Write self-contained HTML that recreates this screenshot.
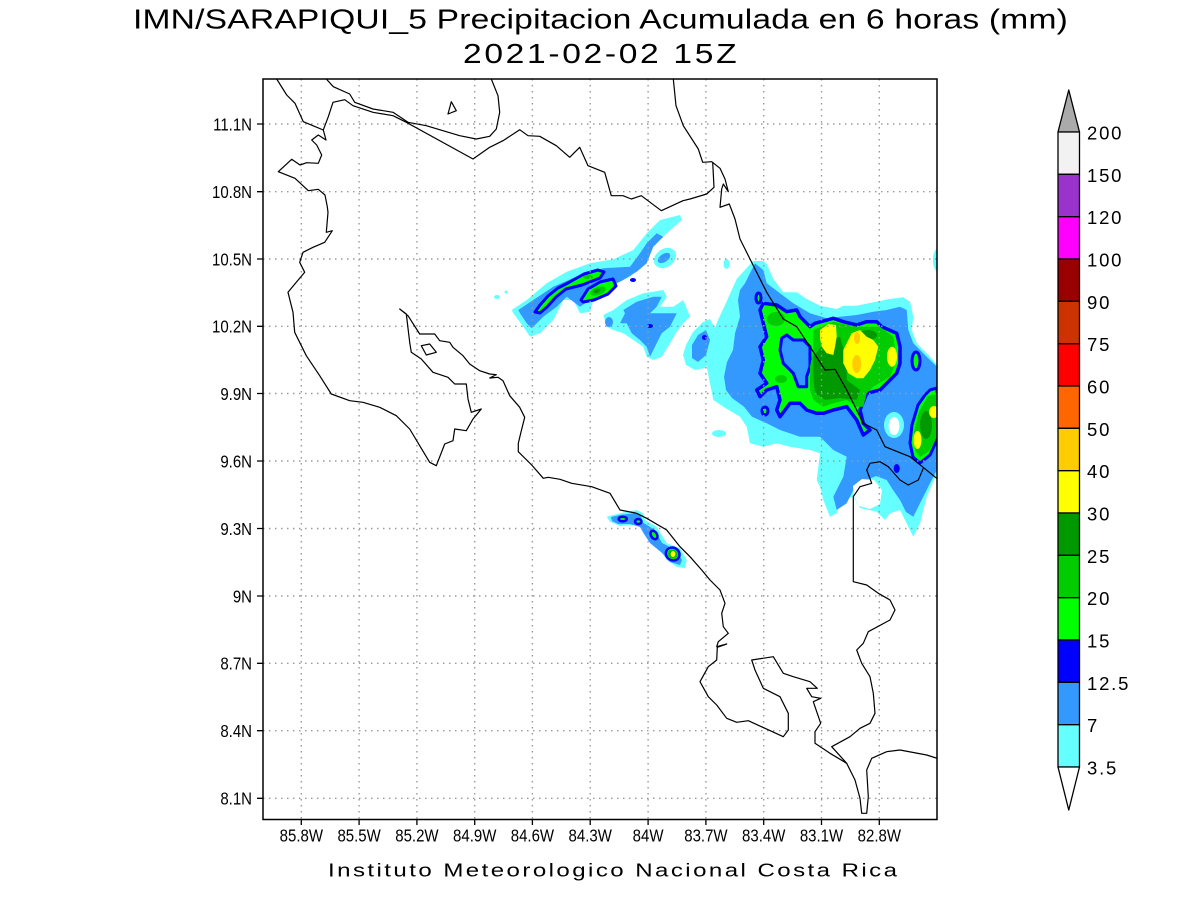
<!DOCTYPE html>
<html>
<head>
<meta charset="utf-8">
<style>
html,body{margin:0;padding:0;background:#fff;}
svg{display:block;}
text{font-family:"Liberation Sans",sans-serif;fill:#000;}
</style>
</head>
<body>
<svg width="1200" height="900" viewBox="0 0 1200 900" xmlns="http://www.w3.org/2000/svg">
<defs>
<clipPath id="fr"><rect x="263" y="79" width="674" height="740"/></clipPath>
</defs>
<rect x="0" y="0" width="1200" height="900" fill="#fff"/>

<!-- Titles -->
<text transform="translate(133,28.5) scale(1.2,1)" font-size="28" textLength="779" lengthAdjust="spacing">IMN/SARAPIQUI_5 Precipitacion Acumulada en 6 horas (mm)</text>
<text transform="translate(463,63) scale(1.2,1)" font-size="28" textLength="228" lengthAdjust="spacing">2021-02-02 15Z</text>

<g clip-path="url(#fr)" stroke-linejoin="round">
<!-- ===== NW band ===== -->
<polygon fill="#66ffff" points="511.7,310 526.7,300 546.7,283.3 566.7,271.7 590,263.3 613.3,259.3 633.3,250 646.7,233.3 660,220 680,215 681.7,220 666.7,233.3 653.3,246.7 646.7,258.3 636.7,270 630,276.7 606.7,286.7 593.3,300 590,311.7 580,313.3 573.3,300 563.3,300 553.3,320 540,333.3 530,336.7 523.3,326.7 513.3,313.3"/>
<ellipse cx="665" cy="258" rx="12" ry="9" fill="#66ffff" transform="rotate(-35 665 258)"/>
<ellipse cx="664" cy="258" rx="7" ry="4" fill="#3399ff" transform="rotate(-35 664 258)"/>
<ellipse cx="497" cy="297" rx="3" ry="2" fill="#66ffff"/>
<ellipse cx="506" cy="292" rx="1.5" ry="1.5" fill="#66ffff"/>
<polygon fill="#66ffff" points="603.3,315 613.3,310 626.7,300 643.3,293.3 663.3,290 666.7,296.7 660,306.7 673.3,306.7 683.3,300 690,316.7 683.3,323.3 676.7,331.7 670,343.3 661.7,356.7 653.3,360 646.7,356.7 643.3,346.7 633.3,340 623.3,333.3 613.3,330 606.7,326.7"/>
<polygon fill="#3399ff" points="518.3,310 533.3,300 553.3,286.7 580,275 603.3,268.3 630,266.7 640,253.3 646.7,243.3 656.7,233.3 663.3,236.7 653.3,246.7 646.7,263.3 636.7,271.7 623.3,280 613.3,285 603.3,291.7 590,300 580,306.7 566.7,296.7 556.7,306.7 543.3,316.7 531.7,328.3 526.7,323.3 520,313.3"/>
<polygon fill="#3399ff" points="623.3,310 636.7,301.7 653.3,296.7 661.7,296.7 656.7,306.7 650,313.3 666.7,313.3 676.7,313.3 670,326.7 661.7,333.3 656.7,343.3 650,356.7 646.7,346.7 640,340 631.7,333.3 626.7,323.3 620,323.3 625,313.3"/>
<ellipse cx="609" cy="322" rx="4" ry="5" fill="#3399ff"/>
<ellipse cx="650" cy="326" rx="3" ry="2" fill="#0000ff"/>
<ellipse cx="633" cy="280" rx="3" ry="2" fill="#0000ff"/>
<polygon fill="#00ff00" stroke="#0000ff" stroke-width="3" points="535,312 540,305 548,296 558,288 568,283 584,274 598,270 604,272 600,278 582,285 566,289 556,297 547,307 540,313"/>
<ellipse cx="588" cy="277" rx="5" ry="2" fill="#00cc00"/>
<polygon fill="#00ff00" stroke="#0000ff" stroke-width="3" points="581,300 588,289 600,282 613,279 616,286 608,294 594,300 583,302"/>
<ellipse cx="598" cy="291" rx="8" ry="4" fill="#00cc00" transform="rotate(-20 598 291)"/>
<ellipse cx="597" cy="291" rx="3.5" ry="2" fill="#009900" transform="rotate(-20 597 291)"/>

<!-- small west blobs near coast -->
<polygon fill="#66ffff" points="686,345 693,332 703,322 710,319 716,330 716,345 710,360 705,368 695,370 686,365 683,355"/>
<polygon fill="#3399ff" points="692,345 698,335 706,330 710,340 706,355 698,362 692,358"/>
<ellipse cx="704.5" cy="337.5" rx="2.5" ry="2.5" fill="#0000ff"/>
<ellipse cx="726.5" cy="264" rx="3" ry="5" fill="#66ffff"/>
<ellipse cx="719" cy="433.5" rx="7" ry="3.5" fill="#66ffff"/>
<ellipse cx="937" cy="260" rx="4" ry="11" fill="#66ffff"/>

<!-- ===== Big eastern storm ===== -->
<polygon fill="#66ffff" points="753,261 763,261 766.7,264 773.3,279 783.3,292.3 796.7,292.3 806.7,299 820,305.7 836.7,309 843.3,305.7 856.7,305.7 873.3,302.3 890,299 903.3,297.3 910,301.7 913.3,316.7 911.7,330 916.7,343.3 930,356.7 937,365 937,473.3 926.7,496.7 923.3,510 920,523.3 913.3,536.7 900,510 890,513.3 885,520 876.7,511.7 860,508 853.3,496.7 840,500 836.7,513.3 830,516.7 823.3,500 820,486.7 816.7,480 820,453.3 810,450 790,446.7 776.7,443.3 763.3,446.7 750,443.3 746.7,426.7 740,416.7 723.3,406.7 713.3,400 710,383.3 706.7,366.7 708,350 712,335 718,320 725,305 736.7,279"/>
<polygon fill="#3399ff" points="755,263.3 763.3,270 766.7,283.3 780,293.3 793.3,303.3 810,313.3 826.7,318.3 840,316.7 856.7,315 873.3,311.7 886.7,310 900,306.7 906.7,310 908.3,330 913.3,343.3 926.7,356.7 937,366.7 937,470 930,483.3 920,503.3 913.3,516.7 906,512 900,500 893,490 886.7,480 876,476 866.7,480 853.3,490 846.7,503.3 836.7,510 833.3,496.7 843.3,476.7 846.7,456.7 833.3,450 820,436.7 800,436.7 780,430 766.7,423.3 752,416.7 744,406.7 732,398 726,390 724,376.7 727,362 733,350 735,333.3 740,316.7 738,300 740,290 745,283.3 750,273.3"/>
<polygon fill="#ffffff" points="853,486 862,479 874,480 882,490 880,504 870,509 859,506 854,497"/>
<ellipse cx="894" cy="425" rx="10" ry="13" fill="#66ffff"/>
<ellipse cx="894" cy="426" rx="5.5" ry="9" fill="#fff"/>
<ellipse cx="896.7" cy="468.5" rx="3" ry="4.5" fill="#0000ff"/>
<ellipse cx="758.5" cy="298" rx="2.5" ry="5" fill="#00ff00" stroke="#0000ff" stroke-width="3"/>
<polygon fill="#00ff00" stroke="#0000ff" stroke-width="3.5" points="763.3,303.3 776.7,305 786.7,311.7 796.7,310 800,316.7 810,326.7 815,323.3 833.3,318.3 843.3,321.7 856.7,325 866.7,321.7 876.7,321.7 881.7,326.7 896.7,333.3 900,346.7 900,363.3 896.7,373.3 893.3,376.7 880,390 866.7,393.3 860,410 863.3,423.3 870,430 863.3,435 856.7,420 846.7,406.7 833.3,410 823.3,413.3 816.7,413.3 806.7,410 800,403.3 790,403.3 780,416.7 776.7,410 780,400 776.7,386.7 766.7,390 760,396.7 756.7,390 766.7,383.3 760,373.3 763.3,360 760,346.7 766.7,336.7 763.3,323.3 760,310"/>
<ellipse cx="765" cy="411" rx="3" ry="4" fill="#00ff00" stroke="#0000ff" stroke-width="3"/>
<polygon fill="#3399ff" stroke="#0000ff" stroke-width="3" points="781.7,338.3 786.7,335 793.3,340 803.3,340 810,346.7 810,366.7 806.7,376.7 806.7,386.7 798.3,386.7 793.3,373.3 783.3,363.3 780,350"/>
<ellipse cx="776" cy="319" rx="9" ry="7" fill="#00cc00"/>
<ellipse cx="781" cy="379" rx="6" ry="4" fill="#00cc00"/>
<polygon fill="#00cc00" points="813.3,330 833.3,321.7 856.7,326.7 880,326.7 893.3,336.7 896.7,360 890,376.7 873.3,386.7 866.7,393.3 863.3,406.7 856.7,406.7 846.7,400 833.3,403.3 823.3,406.7 813.3,400 810,390 810,366.7 813.3,350"/>
<polygon fill="#009900" points="813.3,356.7 826.7,340 840,336.7 846.7,360 846.7,380 860,390 856.7,400 840,398 825,400 815,393 813.3,375"/>
<ellipse cx="868" cy="335" rx="9" ry="5" fill="#009900"/>
<polygon fill="#ffff00" points="820,330 828.3,324 836,325 836.7,336.7 835,346.7 833.3,355 826.7,353.3 821.7,346.7 820,338.3"/>
<polygon fill="#ffff00" points="843.3,350 851.7,333.3 860,330 866.7,336.7 873.3,340 878.3,346.7 875,360 870,370 863.3,378.3 856.7,378.3 848.3,373.3 843.3,363.3"/>
<ellipse cx="892" cy="356.7" rx="5" ry="10" fill="#ffff00"/>
<ellipse cx="856.7" cy="364" rx="4.5" ry="9" fill="#ffcc00"/>
<ellipse cx="857" cy="338" rx="3" ry="6" fill="#ffcc00"/>
<ellipse cx="916" cy="361" rx="4" ry="9" fill="#00ff00" stroke="#0000ff" stroke-width="3"/>
<polygon fill="#00ff00" stroke="#0000ff" stroke-width="3" points="930,390 937,388 937,440 930,455 920,463 913,457 910,443 912,425 918,405 925,395"/>
<polygon fill="#00cc00" points="928,396 937,394 937,437 929,451 920,457 915,450 914,432 919,412"/>
<ellipse cx="926" cy="425" rx="6" ry="14" fill="#009900"/>
<ellipse cx="917.5" cy="440" rx="4" ry="9" fill="#ffff00"/>
<ellipse cx="934" cy="412" rx="5" ry="6" fill="#ffff00"/>

<!-- ===== Southern coastal blobs ===== -->
<polygon fill="#66ffff" points="606.7,516.7 620,513.3 636.7,510 643.3,513.3 645,520 656.7,526.7 666.7,543.3 680,548.3 686.7,560 685,568.3 676.7,566.7 666.7,560 661.7,551.7 650,541.7 645,533.3 643.3,526.7 633.3,525 620,526 610,521.7"/>
<polygon fill="#3399ff" points="611,517 620,515 636,513 641,516 642,522 655,530 662,543 676,550 682,560 680,565 670,562 662,553 650,543 644,534 640,527 630,524 618,524 612,521"/>
<ellipse cx="622.7" cy="519" rx="4" ry="2.3" fill="#00ff00" stroke="#0000ff" stroke-width="2.5"/>
<ellipse cx="638.3" cy="521.5" rx="3.2" ry="2.5" fill="#00ff00" stroke="#0000ff" stroke-width="2.5"/>
<ellipse cx="654" cy="535" rx="3" ry="4.5" fill="#00ff00" stroke="#0000ff" stroke-width="2.5" transform="rotate(-30 654 535)"/>
<ellipse cx="672.7" cy="554" rx="7" ry="6.3" fill="#00ff00" stroke="#0000ff" stroke-width="2.5" transform="rotate(30 672.7 554)"/>
<ellipse cx="672.7" cy="554" rx="5" ry="4.5" fill="#00cc00" transform="rotate(30 672.7 554)"/>
<ellipse cx="673" cy="554" rx="3.5" ry="3.2" fill="#009900"/>
<ellipse cx="673" cy="554" rx="2.5" ry="3" fill="#ffff00"/>
</g>

<!-- Grid -->
<g stroke="#9a9a9a" stroke-width="1.4" stroke-dasharray="1.5 4.5" fill="none">
<path d="M301.3 79V819M359.1 79V819M416.9 79V819M474.7 79V819M532.4 79V819M590.2 79V819M648.1 79V819M705.9 79V819M763.7 79V819M821.5 79V819M879.3 79V819"/>
<path d="M263 124H937M263 191.7H937M263 259H937M263 326.3H937M263 393.5H937M263 461H937M263 528.5H937M263 596H937M263 663.3H937M263 730.7H937M263 798.3H937"/>
</g>

<!-- Coastlines -->
<g clip-path="url(#fr)" fill="none" stroke="#000" stroke-width="1.2" stroke-linejoin="round">
<polyline points="276.7,79 286.7,95 295,103.3 303.3,121.7 323.3,130 326,140 318.3,135 311.7,140 316.7,145 321.7,155 318.3,163.3 306.7,162.7 300,165 291.7,159.3 278.3,171.7 295,178.3 308.3,190.7 318.3,189.3 325,195 327.3,206.7 328,212.3 326.3,232.3 332.3,230.7 324.7,242.3 313,247.3 303,252.3 299.7,262.3 304.7,272.3 296.3,282.3 288,292.3 293,312.3 294.7,332.3 306.3,355.7 319.7,375.7 331.3,394 349.7,400.7 363,402.3 379.7,407.3 396.3,415.7 409.7,429 419.7,445.7 429.7,462.3 436.3,465.7 444.7,444 453,440.7 454.7,429 466.3,430.7 473,419 481.3,409 471.3,412.3 468,399 466.3,384 454.7,384 448,377.3 433,372.3 421.3,359 411.3,352.3 409.7,342.3 406.3,314 399.7,309 408,315.7 419.7,334 434.7,334 439.7,340.7 449.7,342.3 453,347.3 463,355.7 469.7,364 479.7,370.7 489.7,374 496.3,374.7 489.7,378 498,377.3 503,380.7 509.7,395.7 519.7,407.3 524.7,417.3 521,432 518.3,443.3 518.3,451.7 531.7,465 543.3,478.3 548.3,477.3 560,479.3 571.7,483.3 591.7,486.7 610,493.3 620,510 636.7,513.3 646.7,518.3 666.7,530 680,546.7 690,556.7 701.7,570 710,580 720,590 725,603.3 721.7,613.3 723.3,626.7 728.3,633.3 718.3,641.7 716.7,646.7 726.7,644 717.3,647.3 716.7,660 708.3,666.7 700,681.7 708.3,696.7 716.7,705 726.7,718.3 736.7,722.3 748.3,720.7 783.3,736.7 788.3,730 788.3,713.3 780,696.7 763.3,688.3 755,670 751.7,660 773.3,656.7 783.3,673.3 793.3,676.7 810,681.7 817.3,688.3 806.7,688.3 811.7,696.7 820.7,698.3 813.3,701.7 816.7,711.7 820.7,723.3 815,731.7 815,743.3 830,753.3 846.7,763.3 855,780 860,798.3 861.7,813.3 866.7,813.3 868.3,796.7 866.7,770 871.7,758.3 886.7,751.7 900,750 926.7,755 937,758.3"/>
<polyline points="326.3,79 333.3,86.7 349.7,94 354.7,102.3 373,109 393,112.3 408,122.3 426.3,125.7 443,130.7 459.7,135.7 476.3,139 489.7,136.3 496.3,129 499.7,112.3 498,95.7 491.3,79"/>
<polygon points="448,114 456.3,110.7 451.3,101.7"/>
<polygon points="421.3,345.7 429.7,344 436.3,352.3 426.3,355"/>
<polyline points="323,130.7 328.3,116.7 333,102.3 344.7,99.7 353,105.7 373,112.3 393,115.7 406.3,122.3 473,159 489.7,147.3 503,140.7 519.7,129.7 528,135.7 539.7,136.3 556.3,145.7 569.7,157.3 579.7,147.3 588,165.7 604.7,172.3 611.3,195.7 623,195.7 631.3,199 641.3,195.7 661.3,210.7 683,200.7 690,199 706.7,194 714,187.3 712.7,162.3"/>
<polyline points="673.3,79 676,105.7 683.3,125.7 698.3,149 702.7,162.3 711.7,161.7 720,168.3 725,179 728.3,191.7 723.3,184 721.7,189 720,207.3 729.3,204 735,219 740,239 750,259 756.7,272.3 766.7,292.3 783.3,319 796.7,326.7 810,346.7 825,370 835,369.3 846.7,390 863.3,423.3 876.7,430 885,446.7 910,456.7 936.7,478.3"/>
<polyline points="923.3,468.3 918.3,480 908.3,485 900,480 888.3,466.7 880,461.7 870,463.3 866.7,470 871.7,483.3 860,486.7 853.3,496.7 853.3,581.7 866.7,585 878.3,593.3 890,600 895,610 890,620 868.3,631.7 863.3,643.3 856.7,650 861.7,663.3 870,676.7 873.3,693.3 875,713.3 870,723.3 860,728.3 850,736.7 831.7,746.7 846.7,763.3"/>
</g>

<!-- Frame & ticks -->
<rect x="263" y="79" width="674" height="740.5" fill="none" stroke="#000" stroke-width="1.5"/>
<g stroke="#000" stroke-width="1.3">
<path d="M257 124H263M257 191.7H263M257 259H263M257 326.3H263M257 393.5H263M257 461H263M257 528.5H263M257 596H263M257 663.3H263M257 730.7H263M257 798.3H263"/>
<path d="M301.3 819V825M359.1 819V825M416.9 819V825M474.7 819V825M532.4 819V825M590.2 819V825M648.1 819V825M705.9 819V825M763.7 819V825M821.5 819V825M879.3 819V825"/>
</g>

<!-- Y labels -->
<g font-size="15" text-anchor="end">
<text transform="translate(252,130.3) scale(1,1.15)">11.1N</text>
<text transform="translate(252,198) scale(1,1.15)">10.8N</text>
<text transform="translate(252,265.3) scale(1,1.15)">10.5N</text>
<text transform="translate(252,332.6) scale(1,1.15)">10.2N</text>
<text transform="translate(252,399.8) scale(1,1.15)">9.9N</text>
<text transform="translate(252,467.3) scale(1,1.15)">9.6N</text>
<text transform="translate(252,534.8) scale(1,1.15)">9.3N</text>
<text transform="translate(252,602.3) scale(1,1.15)">9N</text>
<text transform="translate(252,669.6) scale(1,1.15)">8.7N</text>
<text transform="translate(252,737) scale(1,1.15)">8.4N</text>
<text transform="translate(252,804.6) scale(1,1.15)">8.1N</text>
</g>
<!-- X labels -->
<g font-size="15" text-anchor="middle">
<text transform="translate(301.3,841.7) scale(1,1.15)">85.8W</text>
<text transform="translate(359.1,841.7) scale(1,1.15)">85.5W</text>
<text transform="translate(416.9,841.7) scale(1,1.15)">85.2W</text>
<text transform="translate(474.7,841.7) scale(1,1.15)">84.9W</text>
<text transform="translate(532.4,841.7) scale(1,1.15)">84.6W</text>
<text transform="translate(590.2,841.7) scale(1,1.15)">84.3W</text>
<text transform="translate(648.1,841.7) scale(1,1.15)">84W</text>
<text transform="translate(705.9,841.7) scale(1,1.15)">83.7W</text>
<text transform="translate(763.7,841.7) scale(1,1.15)">83.4W</text>
<text transform="translate(821.5,841.7) scale(1,1.15)">83.1W</text>
<text transform="translate(879.3,841.7) scale(1,1.15)">82.8W</text>
</g>

<text transform="translate(328,876.7) scale(1.3,1)" font-size="18.5" textLength="437.7" lengthAdjust="spacing">Instituto Meteorologico Nacional Costa Rica</text>

<!-- Colorbar -->
<g stroke="#000" stroke-width="1.3" stroke-linejoin="round">
<polygon points="1068.75,90 1079.5,132 1058,132" fill="#aaaaaa"/>
<rect x="1058" y="132" width="21.5" height="42.3" fill="#f2f2f2"/>
<rect x="1058" y="174.3" width="21.5" height="42.4" fill="#9933cc"/>
<rect x="1058" y="216.7" width="21.5" height="42.3" fill="#ff00ff"/>
<rect x="1058" y="259" width="21.5" height="42.3" fill="#990000"/>
<rect x="1058" y="301.3" width="21.5" height="42.4" fill="#cc3300"/>
<rect x="1058" y="343.7" width="21.5" height="42.3" fill="#ff0000"/>
<rect x="1058" y="386" width="21.5" height="42.3" fill="#ff6600"/>
<rect x="1058" y="428.3" width="21.5" height="42.4" fill="#ffcc00"/>
<rect x="1058" y="470.7" width="21.5" height="42.3" fill="#ffff00"/>
<rect x="1058" y="513" width="21.5" height="42.3" fill="#009900"/>
<rect x="1058" y="555.3" width="21.5" height="42.4" fill="#00cc00"/>
<rect x="1058" y="597.7" width="21.5" height="42.3" fill="#00ff00"/>
<rect x="1058" y="640" width="21.5" height="42.3" fill="#0000ff"/>
<rect x="1058" y="682.3" width="21.5" height="42.4" fill="#3399ff"/>
<rect x="1058" y="724.7" width="21.5" height="42.3" fill="#66ffff"/>
<polygon points="1058,767 1079.5,767 1068.75,810" fill="#ffffff"/>
</g>
<g font-size="18.5" letter-spacing="1.8">
<text x="1087" y="139.5">200</text>
<text x="1087" y="181.8">150</text>
<text x="1087" y="224.2">120</text>
<text x="1087" y="266.5">100</text>
<text x="1087" y="308.8">90</text>
<text x="1087" y="351.2">75</text>
<text x="1087" y="393.5">60</text>
<text x="1087" y="435.8">50</text>
<text x="1087" y="478.2">40</text>
<text x="1087" y="520.5">30</text>
<text x="1087" y="562.8">25</text>
<text x="1087" y="605.2">20</text>
<text x="1087" y="647.5">15</text>
<text x="1087" y="689.8">12.5</text>
<text x="1087" y="732.2">7</text>
<text x="1087" y="774.5">3.5</text>
</g>
</svg>
</body>
</html>
